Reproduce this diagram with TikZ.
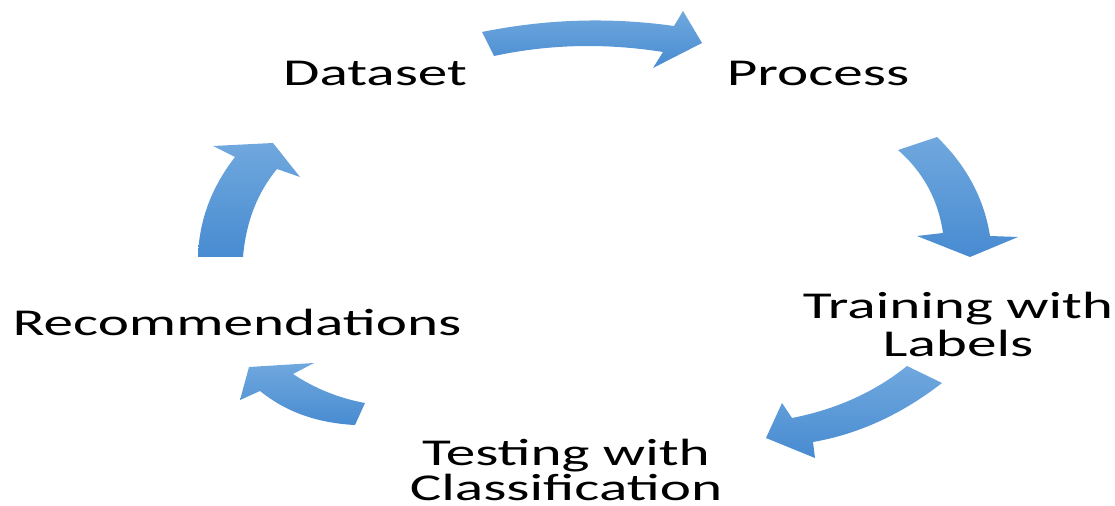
\documentclass[tikz,border=0pt]{standalone}
\usepackage{fontspec}
\setmainfont{Carlito}
\usepackage{xcolor}
\definecolor{arrowtop}{RGB}{112,168,222}
\definecolor{arrowbot}{RGB}{72,139,209}
\tikzset{
  stage/.style={align=center, xscale=1.56, inner sep=0pt, font=\fontsize{21.6}{21.6}\selectfont},
  cyclearrow/.style={top color=arrowtop, bottom color=arrowbot, draw=none}
}

\begin{document}
\begin{tikzpicture}[x=0.02cm, y=-0.02cm]
  \useasboundingbox (0,0) rectangle (1115,506);
  \node[stage, anchor=base] (dataset) at (375,86) {Dataset};
  \node[stage, anchor=base] (process) at (818,86) {Process};
  \node[stage] (training) at (958,324) {Training with\\Labels};
  \node[stage, font=\fontsize{21.6}{18.4}\selectfont] (testing) at (566,470) {Testing with\\Classification};
  \node[stage, anchor=base] (recomm) at (237,336) {Recommendations};
  % block arrows of the cycle
  \path[cyclearrow] (482,32) .. controls (546,19) and (610,17) .. (674,26) -- (683,11) -- (702,43) -- (653,68) -- (663,52)
    .. controls (606,43) and (550,44) .. (494,56) -- cycle;
  \path[cyclearrow] (937,137) .. controls (966,165) and (984,198) .. (990,236) -- (1018,237) -- (970,257) -- (917,236) -- (943,233)
    .. controls (938,199) and (923,172) .. (898,150) -- cycle;
  \path[cyclearrow] (942,383) .. controls (902,414) and (859,434) .. (813,442) -- (815,458) -- (766,438) -- (782,403) -- (792,418)
    .. controls (838,409) and (876,391) .. (907,366) -- cycle;
  \path[cyclearrow] (355,425) .. controls (317,423) and (286,412) .. (260,391) -- (240,400) -- (249,367) -- (314,363) -- (293,374)
    .. controls (314,388) and (338,398) .. (365,403) -- cycle;
  \path[cyclearrow] (198,257) .. controls (199,221) and (211,188) .. (235,157) -- (213,146) -- (273,143) -- (300,177) -- (277,169)
    .. controls (258,192) and (246,221) .. (243,257) -- cycle;
\end{tikzpicture}
\end{document}
